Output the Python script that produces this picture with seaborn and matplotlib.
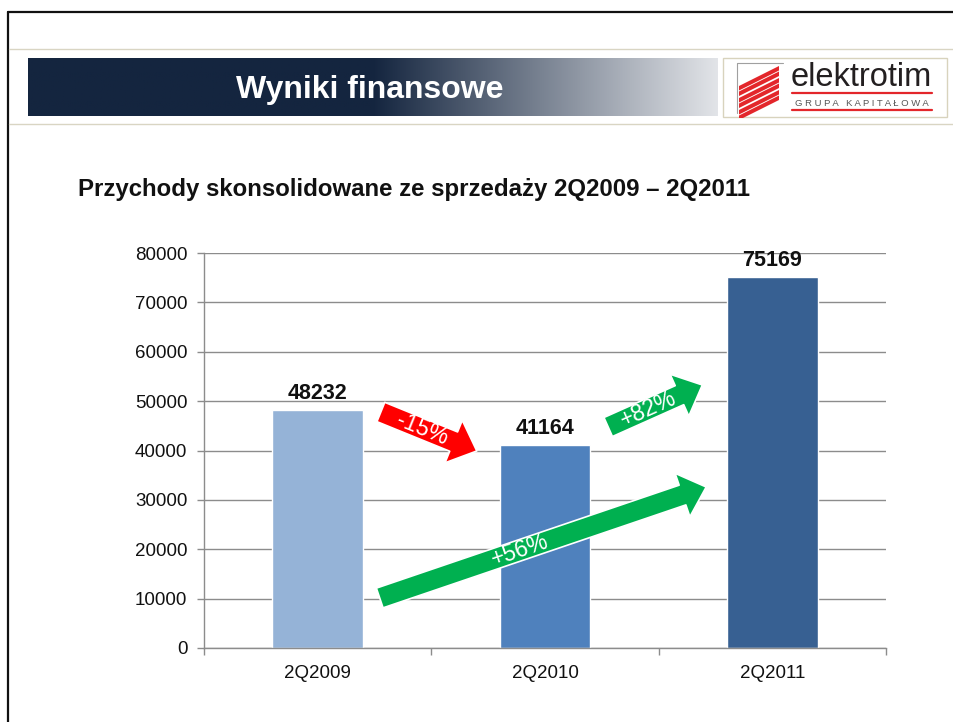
import numpy as np
import matplotlib
matplotlib.use("Agg")
import matplotlib.pyplot as plt
from matplotlib.lines import Line2D
from matplotlib.patches import Rectangle, Polygon
import seaborn as sns

# dane
quarters = ["2Q2009", "2Q2010", "2Q2011"]
revenue = [48232, 41164, 75169]
bar_colors = ["#95b3d7", "#4f81bd", "#376092"]
y_ticks = [0, 10000, 20000, 30000, 40000, 50000, 60000, 70000, 80000]

# strzalki zmian: etykieta, kolor, (ogon), (grot) w jednostkach wykresu
changes = ["-15%", "+82%", "+56%"]
change_colors = ["#ff0000", "#00b050", "#00b050"]
change_tails = [(0.278, 47800), (1.278, 44760), (0.273, 10130)]
change_tips = [(0.700, 39900), (1.692, 53270), (1.709, 32610)]

sns.set_theme(style="white")
plt.rcParams["font.family"] = ["Liberation Sans", "DejaVu Sans"]

W, H = 954, 722
fig = plt.figure(figsize=(W / 100, H / 100), dpi=100)
fig.patch.set_facecolor("white")


def fx(px):
    return px / W


def fy(py):
    return 1 - py / H


# ramka slajdu i linie naglowka
fig.add_artist(Line2D([fx(8), 1], [fy(12), fy(12)], color="#111111", lw=1.6))
fig.add_artist(Line2D([fx(8), fx(8)], [fy(12), 0], color="#111111", lw=1.6))
for yy in (48.5, 124):
    fig.add_artist(Line2D([fx(9), 1], [fy(yy), fy(yy)], color="#d9d5c3", lw=1))

# pasek z gradientem
bax = fig.add_axes([fx(28), fy(116), fx(718) - fx(28), 58 / H])
t = np.linspace(0, 1, 400)
k = np.clip((t - 0.5) / 0.5, 0, 1)[None, :, None]
dark = np.array([20, 37, 63]) / 255
light = np.array([226, 228, 232]) / 255
grad = dark + (light - dark) * k
bax.imshow(np.repeat(grad, 2, axis=0), aspect="auto", extent=[0, 1, 0, 1])
bax.axis("off")
fig.text(fx(370), fy(98), "Wyniki finansowe", color="white", fontsize=23,
         fontweight="bold", ha="center", va="baseline")

# logo
lax = fig.add_axes([fx(723), fy(118), fx(948) - fx(723), 61 / H])
lax.set_xlim(723, 948)
lax.set_ylim(118, 57)
lax.axis("off")
lax.add_patch(Rectangle((723.5, 57.5), 223.5, 59.5, fill=False,
                        edgecolor="#d8d3bd", lw=1, clip_on=False))
lax.plot([737, 737, 783], [113, 63, 63], color="#a0a0a0", lw=0.8)
for g in range(3):
    for s in range(2):
        y0 = 86 + g * 12 + s * 5.5
        lax.add_patch(Polygon([(739, y0), (779, y0 - 20), (779, y0 - 15.5),
                               (739, y0 + 4.5)], closed=True,
                              facecolor="#e3262b", edgecolor="none"))
lax.text(791, 86, "elektrotim", fontsize=23.5, color="#231f20",
         ha="left", va="baseline")
lax.plot([792, 932], [93, 93], color="#e3262b", lw=1.6)
lax.plot([792, 932], [110, 110], color="#e3262b", lw=1.6)
lax.text(862, 105.5, "G R U P A   K A P I T A Ł O W A", fontsize=6.8,
         color="#555555", ha="center", va="baseline")

# tytul
fig.text(fx(78), fy(196), "Przychody skonsolidowane ze sprzedaży 2Q2009 – 2Q2011",
         fontsize=17.3, fontweight="bold", color="#111111", ha="left", va="baseline")

# wykres
ax = fig.add_axes([fx(204), fy(648), fx(886) - fx(204), (648 - 253) / H])
sns.barplot(x=quarters, y=revenue, hue=quarters, palette=bar_colors,
            width=0.4, saturation=1, legend=False, ax=ax, zorder=2)
ax.set_xlim(-0.5, 2.5)
ax.set_ylim(0, 80000)
ax.set_yticks(y_ticks)
ax.set_yticklabels([str(v) for v in y_ticks])
ax.set_xticks([-0.5, 0.5, 1.5, 2.5], minor=True)
ax.set_axisbelow(True)
ax.yaxis.grid(True, color="#8c8c8c", lw=1)
ax.xaxis.grid(False)
for side in ("top", "right"):
    ax.spines[side].set_visible(False)
for side in ("left", "bottom"):
    ax.spines[side].set_color("#8c8c8c")
    ax.spines[side].set_linewidth(1)
ax.tick_params(axis="y", which="major", direction="out", length=5, width=1,
               color="#8c8c8c", pad=7, labelsize=13.5, labelcolor="#111111", left=True)
ax.tick_params(axis="x", which="major", length=0, pad=12, labelsize=13.5,
               labelcolor="#111111")
ax.tick_params(axis="x", which="minor", direction="out", length=5, width=1,
               color="#8c8c8c", bottom=True)
ax.set_xlabel("")
ax.set_ylabel("")

for i, v in enumerate(revenue):
    ax.annotate(str(v), (i, v), xytext=(0, 7.5), textcoords="offset points",
                ha="center", va="baseline", fontsize=15.5, fontweight="bold",
                color="#111111")

# strzalki
for lab, col, tail, tip in zip(changes, change_colors, change_tails, change_tips):
    ax.annotate("", xy=tip, xytext=tail,
                arrowprops=dict(arrowstyle="simple,head_length=18,head_width=33,tail_width=15",
                                mutation_scale=1, facecolor=col, edgecolor="white",
                                lw=1.2, shrinkA=0, shrinkB=0),
                zorder=5)
    p0 = ax.transData.transform(tail)
    p1 = ax.transData.transform(tip)
    ang = np.degrees(np.arctan2(p1[1] - p0[1], p1[0] - p0[0]))
    mid = p0 + 0.43 * (p1 - p0)
    mx, my = ax.transData.inverted().transform(mid)
    ax.text(mx, my, lab, rotation=ang, rotation_mode="anchor", ha="center",
            va="center", color="white", fontsize=16.5, zorder=6)

fig.savefig("out.png", dpi=100, facecolor="white")
